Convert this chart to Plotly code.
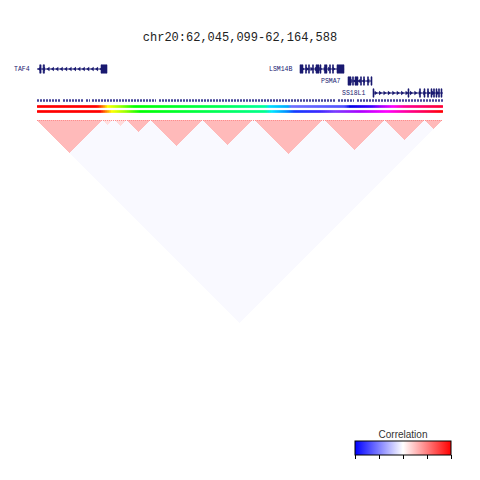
import numpy as np
import plotly.graph_objects as go

# ---------------- data ----------------
REGION_START = 62045099
REGION_END = 62164588
title_text = "chr20:62,045,099-62,164,588"

gene_names = ["TAF4", "LSM14B", "PSMA7", "SS18L1"]
gene_strands = ["-", "+", "-", "+"]
gene_starts = [61974594, 62122500, 62136626, 62143984]
gene_ends = [62065700, 62135449, 62143690, 62172000]
gene_exons = [
    [(62045900, 62046300), (62046900, 62047300), (62063935, 62065700)],
    [(62122500, 62123383), (62124119, 62124413), (62125001, 62125296),
     (62126179, 62126473), (62127209, 62128092), (62128386, 62128680),
     (62129710, 62130446), (62131182, 62131476), (62132065, 62132359),
     (62133389, 62135449)],
    [(62136626, 62137509), (62137951, 62138245), (62138686, 62139569),
     (62140305, 62140599), (62141188, 62141482), (62142365, 62142659),
     (62143395, 62143690)],
    [(62143984, 62144278), (62154284, 62154579), (62157669, 62157963),
     (62158993, 62159287), (62160023, 62160317), (62161053, 62161348),
     (62161789, 62162083), (62162525, 62162819), (62163260, 62163555),
     (62163996, 62164291)],
]

# genotyped SNP coverage along the region (start, end in bp)
snp_track_starts = [62045099, 62052751, 62059520, 62061286, 62081004, 62133683, 62139275]
snp_track_ends = [62051868, 62058637, 62060697, 62080121, 62133095, 62138392, 62164588]

# LD matrix description
N_SNPS = 203
ld_block_first = [0, 33, 39, 45, 57, 83, 109, 144, 174, 194]
ld_block_last = [32, 37, 44, 56, 82, 107, 142, 173, 193, 202]
ld_block_r = [0.27, 0.12, 0.14, 0.27, 0.27, 0.27, 0.27, 0.27, 0.27, 0.27]
ld_background_r = -0.025
ld_diagonal_r = 0.45

# rainbow colour stops for the two SNP connector bands (fraction along the region)
rainbow_top_stops = [0.0, 0.148, 0.163, 0.175, 0.204, 0.241, 0.463, 0.562, 0.574,
                     0.618, 0.628, 0.759, 0.771, 0.825, 0.845, 0.877, 0.906, 1.0]
rainbow_top_colors = ["#ff0000", "#ff0000", "#ff8000", "#ffff00", "#a0ff00", "#00ff00",
                      "#00ff5a", "#00ffa0", "#00dcff", "#00aaff", "#6e70ff", "#5050ff",
                      "#0000e6", "#3c00ff", "#9600ff", "#ff00ff", "#ff0096", "#ff0032"]
rainbow_bot_stops = [0.0, 0.155, 0.170, 0.185, 0.217, 0.254, 0.562, 0.579, 0.616,
                     0.635, 0.697, 0.734, 0.796, 0.862, 0.919, 0.968, 1.0]
rainbow_bot_colors = ["#ff0000", "#ff0000", "#ff8000", "#ffff00", "#a0ff00", "#00ff00",
                      "#00ff8c", "#00e6ff", "#008cff", "#143cff", "#3c28ff", "#783cff",
                      "#aa00ff", "#ff00ff", "#ff008c", "#ff003c", "#ff0000"]

corr_colorscale = [[0.0, "#0000ff"], [0.5, "#ffffff"], [1.0, "#ff0000"]]
corr_ticks = [-1, -0.5, 0, 0.5, 1]

# ---------------- style / layout ----------------
NAVY = "#191970"
ROW_Y = {"TAF4": 9, "LSM14B": 9, "PSMA7": 21, "SS18L1": 33}
SNP_ROW_Y = 40.5
BAND_Y = [46.5, 51.5]
EXON_HALF = 4.2
X_DOMAIN = [37 / 480, 443 / 480]

# ---------------- build LD matrix ----------------
R = np.full((N_SNPS, N_SNPS), ld_background_r)
for a, b, r in zip(ld_block_first, ld_block_last, ld_block_r):
    R[a:b + 1, a:b + 1] = r
np.fill_diagonal(R, ld_diagonal_r)

# rotated (triangle) image of the upper triangle
cols = np.arange(2 * N_SNPS)
rows = np.arange(N_SNPS)
U = (cols[None, :] + 0.5) * 0.5
V = (rows[:, None] + 0.5) * 0.5
I = np.floor(U - V).astype(int)
J = np.floor(U + V).astype(int)
valid = (I >= 0) & (J <= N_SNPS - 1) & (I <= J)
Z = np.full(I.shape, np.nan)
Z[valid] = R[I[valid], J[valid]]

fig = go.Figure()

fig.add_trace(go.Heatmap(
    z=Z, x0=0.25, dx=0.5, y0=0.25, dy=0.5,
    xaxis="x2", yaxis="y2",
    zmin=-1, zmax=1, colorscale=corr_colorscale,
    hoverinfo="skip",
    colorbar=dict(
        orientation="h", x=403 / 480, xanchor="center",
        y=1 - 460 / 480, yanchor="bottom",
        len=96, lenmode="pixels", thickness=14,
        xpad=0, ypad=0,
        outlinewidth=1, outlinecolor="#000000",
        tickvals=corr_ticks, ticks="outside", ticklen=4, tickcolor="#000000",
        showticklabels=False,
        title=dict(text="Correlation", side="top",
                   font=dict(family="Liberation Sans", size=10, color="#333333")),
    ),
))

# rainbow connector bands (one coloured mark per SNP)
span = REGION_END - REGION_START
snp_band_x = [REGION_START + span * (k + 0.5) / N_SNPS for k in range(N_SNPS)]
snp_band_c = [(k + 0.5) / N_SNPS for k in range(N_SNPS)]
for yb, stops, colors in [(BAND_Y[0], rainbow_top_stops, rainbow_top_colors),
                          (BAND_Y[1], rainbow_bot_stops, rainbow_bot_colors)]:
    fig.add_trace(go.Scatter(
        x=snp_band_x, y=[yb] * N_SNPS, mode="markers",
        marker=dict(symbol="square", size=2.6, color=snp_band_c,
                    colorscale=[[s, c] for s, c in zip(stops, colors)],
                    cmin=0, cmax=1, line=dict(width=0)),
        xaxis="x", yaxis="y3", hoverinfo="skip",
    ))

# SNP coverage track
for s, e in zip(snp_track_starts, snp_track_ends):
    fig.add_trace(go.Scatter(
        x=[s, e], y=[SNP_ROW_Y, SNP_ROW_Y], mode="lines",
        line=dict(color="#46469a", width=2.5, dash="2px,1px"),
        xaxis="x", yaxis="y3", hoverinfo="skip",
    ))

# genes
shapes = []
annotations = []
for name, strand, gs, ge, exons in zip(gene_names, gene_strands, gene_starts, gene_ends, gene_exons):
    yr = ROW_Y[name]
    fig.add_trace(go.Scatter(
        x=[gs, ge], y=[yr, yr], mode="lines",
        line=dict(color=NAVY, width=1), xaxis="x", yaxis="y3", hoverinfo="skip",
    ))
    vs = max(gs, REGION_START)
    ve = min(ge, REGION_END)
    step = 1300
    cx = list(np.arange(vs + step * 0.6, ve - step * 0.3, step))
    fig.add_trace(go.Scatter(
        x=cx, y=[yr] * len(cx), mode="markers",
        marker=dict(symbol="triangle-left" if strand == "-" else "triangle-right",
                    size=4, color=NAVY, line=dict(width=0)),
        xaxis="x", yaxis="y3", hoverinfo="skip",
    ))
    for es, ee in exons:
        shapes.append(dict(type="rect", xref="x", yref="y3", x0=es, x1=ee,
                           y0=yr - EXON_HALF, y1=yr + EXON_HALF,
                           fillcolor=NAVY, line=dict(color=NAVY, width=0.6)))
    annotations.append(dict(text=name, x=vs, y=yr, xref="x", yref="y3",
                            xanchor="right", yanchor="middle", xshift=-5,
                            showarrow=False,
                            font=dict(family="Liberation Mono", size=6.5, color=NAVY)))

fig.update_layout(
    width=480, height=480,
    margin=dict(l=0, r=0, t=0, b=0),
    paper_bgcolor="white", plot_bgcolor="white",
    showlegend=False,
    title=dict(text=title_text, x=0.5, xanchor="center", y=1 - 37 / 480, yanchor="middle",
               font=dict(family="Liberation Mono", size=12, color="#222222")),
    xaxis=dict(domain=X_DOMAIN, range=[REGION_START, REGION_END], visible=False, fixedrange=True),
    yaxis3=dict(domain=[1 - 116 / 480, 1 - 60 / 480], range=[56, 0], visible=False, anchor="x"),
    xaxis2=dict(domain=X_DOMAIN, range=[0, N_SNPS], visible=False, anchor="y2"),
    yaxis2=dict(domain=[1 - 323 / 480, 1 - 120 / 480], range=[N_SNPS / 2, 0], visible=False, anchor="x2"),
    yaxis=dict(visible=False, domain=[0, 0.01]),
    shapes=shapes,
    annotations=annotations,
)

fig.write_html("out.html")
